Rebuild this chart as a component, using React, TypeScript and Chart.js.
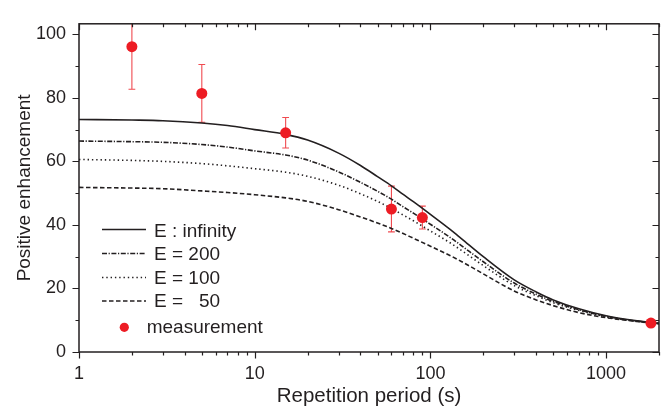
import React, { useEffect, useRef } from "react";
import { Chart, registerables } from "chart.js";
Chart.register(...registerables);

// ---- data ----
const periods = [1, 2, 3, 5, 7, 10, 15, 20, 30, 40, 50, 60, 70, 80, 100, 130, 150, 200, 300, 400, 500, 700, 1000, 1500, 2000];
const eInfinity = [73.2, 73.0, 72.8, 72.1, 71.3, 70.0, 68.5, 66.7, 62.6, 58.7, 55.2, 52.3, 49.6, 47.3, 43.3, 38.5, 35.7, 30.0, 22.7, 18.9, 16.4, 13.6, 11.4, 9.8, 9.0];
const e200 = [66.4, 66.2, 66.0, 65.3, 64.5, 63.3, 62.0, 60.4, 56.7, 53.4, 50.6, 48.1, 45.7, 43.7, 40.2, 36.0, 33.5, 28.4, 21.7, 18.2, 15.9, 13.3, 11.2, 9.7, 9.0];
const e100 = [60.6, 60.3, 60.0, 59.3, 58.6, 57.7, 56.6, 55.3, 52.5, 49.8, 47.4, 45.2, 43.1, 41.3, 38.1, 34.3, 32.0, 27.2, 20.9, 17.7, 15.5, 13.1, 11.1, 9.7, 9.0];
const e50 = [51.8, 51.6, 51.4, 50.7, 50.2, 49.5, 48.5, 47.4, 44.8, 42.5, 40.6, 38.9, 37.3, 35.8, 33.3, 30.3, 28.5, 24.6, 19.2, 16.4, 14.6, 12.4, 10.8, 9.6, 8.9];
const measX = [2, 5, 15, 60, 90, 1800];
const measY = [96.1, 81.4, 69.0, 45.0, 42.3, 9.1];
const measErr = [13.4, 9.1, 4.8, 7.2, 3.6, 0];
const yTicks = [0, 20, 40, 60, 80, 100];
const yMinorTicks = [10, 30, 50, 70, 90];
const xTicks = [1, 10, 100, 1000];
const xMinorTicks = [2, 3, 4, 5, 6, 7, 8, 9, 20, 30, 40, 50, 60, 70, 80, 90, 200, 300, 400, 500, 600, 700, 800, 900, 2000];
const seriesLabels = ["E : infinity", "E = 200", "E = 100", "E =   50", "measurement"];

const INK = "#231f20";
const RED = "#ed1c24";
const FONT = "Arial, 'Liberation Sans', sans-serif";
const dashes: number[][] = [[], [5, 1.6, 1.2, 1.6], [1.4, 2.9], [4.5, 2.5]];

const toPts = (ys: number[]) => periods.map((x, i) => ({ x, y: ys[i] }));

const customPlugin = {
  id: "custom",
  beforeDatasetsDraw(chart: any) {
    const { ctx, chartArea: a, scales } = chart;
    const xs = scales.x, ys = scales.y;
    ctx.save();
    ctx.beginPath();
    ctx.rect(a.left, a.top, a.right - a.left, a.bottom - a.top);
    ctx.clip();
    ctx.strokeStyle = "#f04a50";
    ctx.lineWidth = 1.1;
    measX.forEach((mx, i) => {
      const e = measErr[i];
      if (!e) return;
      const px = xs.getPixelForValue(mx);
      const top = ys.getPixelForValue(measY[i] + e);
      const bot = ys.getPixelForValue(measY[i] - e);
      ctx.beginPath();
      ctx.moveTo(px, top);
      ctx.lineTo(px, bot);
      ctx.moveTo(px - 3.4, top);
      ctx.lineTo(px + 3.4, top);
      ctx.moveTo(px - 3.4, bot);
      ctx.lineTo(px + 3.4, bot);
      ctx.stroke();
    });
    ctx.restore();
  },
  afterDraw(chart: any) {
    const { ctx, chartArea: a, scales } = chart;
    const xs = scales.x, ys = scales.y;
    ctx.save();
    ctx.strokeStyle = INK;
    ctx.lineWidth = 1.5;
    ctx.strokeRect(a.left, a.top, a.right - a.left, a.bottom - a.top);
    ctx.lineWidth = 1.2;
    const MAJ = 6.5, MIN = 3.5;
    ctx.beginPath();
    const yt = (v: number, len: number) => {
      const py = Math.round(ys.getPixelForValue(v)) + 0.5;
      ctx.moveTo(a.left - len, py); ctx.lineTo(a.left, py);
      ctx.moveTo(a.right, py); ctx.lineTo(a.right - len, py);
    };
    yTicks.forEach((v) => yt(v, MAJ));
    yMinorTicks.forEach((v) => yt(v, MIN));
    const xt = (v: number, len: number) => {
      const px = Math.round(xs.getPixelForValue(v)) + 0.5;
      ctx.moveTo(px, a.bottom); ctx.lineTo(px, a.bottom + len);
      ctx.moveTo(px, a.top); ctx.lineTo(px, a.top + len);
    };
    xTicks.forEach((v) => xt(v, MAJ));
    xMinorTicks.forEach((v) => xt(v, MIN));
    ctx.stroke();

    // legend
    const lx0 = 102, lx1 = 146, tx = 154;
    const lineY = [229.5, 253.5, 277.5, 301];
    const baseY = [236.8, 260, 283.5, 307.3];
    ctx.font = `19px ${FONT}`;
    ctx.fillStyle = INK;
    ctx.textBaseline = "alphabetic";
    ctx.textAlign = "left";
    for (let i = 0; i < 4; i++) {
      ctx.beginPath();
      ctx.setLineDash(dashes[i]);
      ctx.lineWidth = 1.5;
      ctx.moveTo(lx0, lineY[i]);
      ctx.lineTo(lx1, lineY[i]);
      ctx.stroke();
      ctx.setLineDash([]);
      ctx.fillText(seriesLabels[i], tx, baseY[i]);
    }
    ctx.beginPath();
    ctx.fillStyle = RED;
    ctx.arc(124.3, 327.3, 4.6, 0, Math.PI * 2);
    ctx.fill();
    ctx.fillStyle = INK;
    ctx.fillText(seriesLabels[4], 146.7, 333.3);
    ctx.restore();
  },
};

export default function App() {
  const ref = useRef<HTMLCanvasElement>(null);
  useEffect(() => {
    document.body.style.margin = "0";
    const lines = [eInfinity, e200, e100, e50].map((ys, i) => ({
      label: seriesLabels[i],
      data: toPts(ys),
      borderColor: INK,
      borderWidth: 1.6,
      borderDash: dashes[i],
      pointRadius: 0,
      fill: false,
      order: i + 1,
      cubicInterpolationMode: "monotone" as const,
    }));
    const meas = {
      label: seriesLabels[4],
      data: measX.map((x, i) => ({ x, y: measY[i] })),
      showLine: false,
      pointRadius: 5.5,
      pointBackgroundColor: RED,
      pointBorderWidth: 0,
      borderColor: RED,
      order: -1,
    };
    const tickFont = { size: 18, family: FONT };
    const chart = new Chart(ref.current!, {
      type: "line",
      data: { datasets: [...lines, meas] as any },
      plugins: [customPlugin],
      options: {
        responsive: false,
        animation: false,
        layout: { padding: { left: 0, top: 5, right: 12, bottom: 0 } },
        plugins: { legend: { display: false }, tooltip: { enabled: false } },
        scales: {
          x: {
            type: "logarithmic",
            min: 1,
            max: 2000,
            grid: { display: false, drawTicks: false },
            border: { display: false },
            ticks: {
              color: INK,
              font: tickFont,
              padding: 11,
              autoSkip: false,
              maxRotation: 0,
              callback: (v: any) => String(v),
            },
            afterBuildTicks: (s: any) => {
              s.ticks = xTicks.map((v) => ({ value: v }));
            },
            afterFit: (s: any) => {
              s.height = 62;
            },
            title: {
              display: true,
              text: "Repetition period (s)",
              color: INK,
              font: { size: 20.5, family: FONT },
              padding: { top: 0, bottom: 5 },
            },
          },
          y: {
            type: "linear",
            min: 0,
            max: 103.3,
            grid: { display: false, drawTicks: false },
            border: { display: false },
            ticks: { color: INK, font: tickFont, padding: 13 },
            afterBuildTicks: (s: any) => {
              s.ticks = yTicks.map((v) => ({ value: v }));
            },
            afterFit: (s: any) => {
              s.width = 79;
            },
            title: {
              display: true,
              text: "Positive enhancement",
              color: INK,
              font: { size: 19, family: FONT },
              padding: { top: 13, bottom: 0 },
            },
          },
        },
      } as any,
    });
    return () => chart.destroy();
  }, []);
  return (
    <div style={{ width: 671, height: 414 }}>
      <canvas ref={ref} width={671} height={414} />
    </div>
  );
}
